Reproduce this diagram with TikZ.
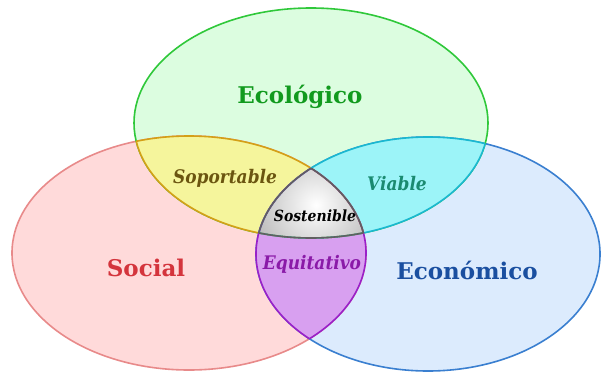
\documentclass[tikz,border=0pt]{standalone}
\usepackage{fontspec}
\setmainfont{DejaVu Serif}
\definecolor{gfill}{HTML}{DCFDE0}
\definecolor{rfill}{HTML}{FFDADA}
\definecolor{bfill}{HTML}{DCEBFD}
\definecolor{yfill}{HTML}{F5F59C}
\definecolor{cfill}{HTML}{9CF4F8}
\definecolor{pfill}{HTML}{D8A0F0}
\definecolor{gline}{HTML}{2FC83A}
\definecolor{rline}{HTML}{E88A8A}
\definecolor{bline}{HTML}{3A7FD0}
\definecolor{yline}{HTML}{D4A017}
\definecolor{cline}{HTML}{1AB8D0}
\definecolor{pline}{HTML}{9A20C8}
\definecolor{kline}{HTML}{606060}
\definecolor{gtext}{HTML}{119A1E}
\definecolor{rtext}{HTML}{D4343C}
\definecolor{btext}{HTML}{1A4FA0}
\definecolor{ytext}{HTML}{6B5510}
\definecolor{ctext}{HTML}{1A8A70}
\definecolor{ptext}{HTML}{8A1AA8}
\begin{document}
\begin{tikzpicture}[x=1pt,y=-1pt,
  edge/.style={line width=1.6pt},
  big/.style={font=\fontsize{23}{23}\selectfont\bfseries, inner sep=0pt},
  small/.style={font=\fontsize{17}{17}\selectfont\bfseries\itshape, inner sep=0pt, yscale=1.1, transform shape}]
\def\pG{(311,123) ellipse [x radius=177pt, y radius=115pt]}
\def\pR{(189,253) ellipse [x radius=177pt, y radius=117pt]}
\def\pB{(428,254) ellipse [x radius=172pt, y radius=117pt]}
\useasboundingbox (0,0) rectangle (601,372);
% base circles
\fill[rfill] \pR;
\fill[bfill] \pB;
\fill[gfill] \pG;
\draw[edge, rline] \pR;
\draw[edge, bline] \pB;
\draw[edge, gline] \pG;
% pair regions
\begin{scope}\clip \pG; \fill[yfill] \pR; \end{scope}
\begin{scope}\clip \pG; \fill[cfill] \pB; \end{scope}
\begin{scope}\clip \pR; \fill[pfill] \pB; \end{scope}
\begin{scope}\clip \pG; \clip \pR; \clip \pB;
  \shade[inner color=white, outer color=black!42] (316,205) circle (100pt);
\end{scope}
% pair strokes
\begin{scope}\clip \pG; \draw[edge, yline] \pR; \end{scope}
\begin{scope}\clip \pR; \draw[edge, yline] \pG; \end{scope}
\begin{scope}\clip \pG; \draw[edge, cline] \pB; \end{scope}
\begin{scope}\clip \pB; \draw[edge, cline] \pG; \end{scope}
\begin{scope}\clip \pB; \draw[edge, pline] \pR; \end{scope}
\begin{scope}\clip \pR; \draw[edge, pline] \pB; \end{scope}
% centre strokes
\begin{scope}\clip \pG; \clip \pB; \draw[edge, kline] \pR; \end{scope}
\begin{scope}\clip \pG; \clip \pR; \draw[edge, kline] \pB; \end{scope}
\begin{scope}\clip \pR; \clip \pB; \draw[edge, kline] \pG; \end{scope}
% labels
\node[big, text=gtext] (eco) at (300,97) {Ecológico};
\node[big, text=rtext] (soc) at (146,268) {Social};
\node[big, text=btext] (econ) at (467,270) {Económico};
\node[small, text=ytext] (sop) at (225,178) {Soportable};
\node[small, text=ctext] (via) at (397,184) {Viable};
\node[small, text=ptext] (equ) at (312,264) {Equitativo};
\node[font=\fontsize{14}{14}\selectfont\bfseries\itshape, inner sep=0pt, yscale=1.1, transform shape] (sos) at (315,216) {Sostenible};
\end{tikzpicture}
\end{document}
